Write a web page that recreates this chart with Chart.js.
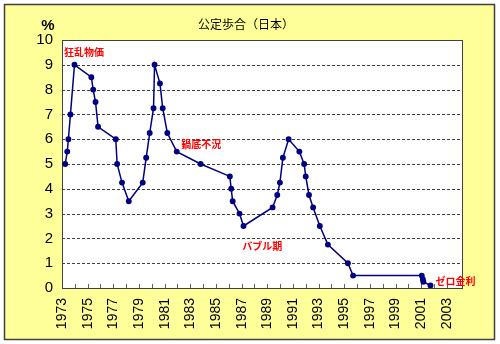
<!DOCTYPE html>
<html>
<head>
<meta charset="utf-8">
<title>公定歩合（日本）</title>
<script src="https://cdn.jsdelivr.net/npm/chart.js@4/dist/chart.umd.min.js"></script>
<style>
  body { margin: 0; background: #fff; }
  canvas { display: block; }
</style>
</head>
<body>
<canvas id="kouteibuai" width="500" height="344"></canvas>
<script>
// 改定日と公定歩合(%)
var changeDates = [
    "1973-04-02", "1973-05-30", "1973-07-02", "1973-08-29", "1973-12-22",
    "1975-04-16", "1975-06-07", "1975-08-13", "1975-10-24",
    "1977-03-12", "1977-04-19", "1977-09-05", "1978-03-16",
    "1979-04-17", "1979-07-24", "1979-11-02", "1980-02-19", "1980-03-19",
    "1980-08-20", "1980-11-06", "1981-03-18", "1981-12-11", "1983-10-22",
    "1986-01-30", "1986-03-10", "1986-04-21", "1986-11-01", "1987-02-23",
    "1989-05-31", "1989-10-11", "1989-12-25", "1990-03-20", "1990-08-30",
    "1991-07-01", "1991-11-14", "1991-12-30", "1992-04-01", "1992-07-27",
    "1993-02-04", "1993-09-21", "1995-04-14", "1995-09-08",
    "2001-01-15", "2001-02-13", "2001-03-01", "2001-09-19"
];
var rates = [
    5.0, 5.5, 6.0, 7.0, 9.0,
    8.5, 8.0, 7.5, 6.5,
    6.0, 5.0, 4.25, 3.5,
    4.25, 5.25, 6.25, 7.25, 9.0,
    8.25, 7.25, 6.25, 5.5, 5.0,
    4.5, 4.0, 3.5, 3.0, 2.5,
    3.25, 3.75, 4.25, 5.25, 6.0,
    5.5, 5.0, 4.5, 3.75, 3.25,
    2.5, 1.75, 1.0, 0.5,
    0.5, 0.35, 0.25, 0.1
];
var yTicks = [0, 1, 2, 3, 4, 5, 6, 7, 8, 9, 10];

// 注記（年, %）
var noteTexts = ["狂乱物価", "鍋底不況", "バブル期", "ゼロ金利"];
var noteYears = [1973.15, 1982.3, 1987.05, 2002.1];
var noteValues = [9.5, 5.8, 1.7, 0.28];

function toYear(s) {
    var p = s.split("-");
    var y = +p[0], m = +p[1], d = +p[2];
    var start = Date.UTC(y, 0, 1), end = Date.UTC(y + 1, 0, 1);
    return y + (Date.UTC(y, m - 1, d) - start) / (end - start);
}

var points = changeDates.map(function (d, i) {
    return { x: toYear(d), y: rates[i] };
});

var boxPlugin = {
    id: "box",
    beforeDraw: function (chart) {
        var ctx = chart.ctx, a = chart.chartArea;
        ctx.save();
        ctx.fillStyle = "#ffffff";
        ctx.fillRect(0, 0, chart.width, chart.height);
        ctx.fillStyle = "#ffff99";
        ctx.fillRect(4, 4, 491, 336);
        ctx.strokeStyle = "#404040";
        ctx.lineWidth = 1.5;
        ctx.strokeRect(4.5, 4.5, 490, 335);
        ctx.fillStyle = "#ffffff";
        ctx.fillRect(a.left, a.top, a.right - a.left, a.bottom - a.top);
        ctx.restore();
    },
    beforeDatasetsDraw: function (chart) {
        var ctx = chart.ctx, a = chart.chartArea, xs = chart.scales.x, ys = chart.scales.y;
        ctx.save();
        // 点線の目盛線
        ctx.strokeStyle = "#404040";
        ctx.lineWidth = 1;
        ctx.setLineDash([3, 2]);
        ctx.beginPath();
        ys.ticks.forEach(function (t) {
            if (t.value === yTicks[0] || t.value === yTicks[yTicks.length - 1]) return;
            var py = Math.round(ys.getPixelForValue(t.value)) + 0.5;
            ctx.moveTo(a.left, py);
            ctx.lineTo(a.right, py);
        });
        ctx.stroke();
        ctx.setLineDash([]);
        ctx.strokeRect(a.left + 0.5, a.top + 0.5, a.right - a.left - 1, a.bottom - a.top);
        // 目盛（内向き）
        ctx.strokeStyle = "#606060";
        ctx.beginPath();
        xs.ticks.forEach(function (t) {
            if (!Number.isInteger(t.value) || t.value === 1973) return;
            var px = Math.round(xs.getPixelForValue(t.value)) + 0.5;
            ctx.moveTo(px, a.bottom);
            ctx.lineTo(px, a.bottom - 4);
        });
        ctx.stroke();
        ctx.restore();
    },
    afterDraw: function (chart) {
        var ctx = chart.ctx, xs = chart.scales.x, ys = chart.scales.y;
        ctx.save();
        ctx.fillStyle = "#000000";
        ctx.textAlign = "center";
        ctx.textBaseline = "middle";
        ctx.font = "12px 'Noto Sans CJK JP'";
        ctx.fillText("公定歩合（日本）", 246, 24);
        ctx.font = "bold 15px 'Liberation Sans'";
        ctx.fillText("%", 48, 26);
        ctx.fillStyle = "#ff0000";
        ctx.textAlign = "left";
        ctx.font = "bold 10px 'Noto Sans CJK JP'";
        noteTexts.forEach(function (t, i) {
            ctx.fillText(t, xs.getPixelForValue(noteYears[i]), ys.getPixelForValue(noteValues[i]));
        });
        ctx.restore();
    }
};

var chart = new Chart(document.getElementById("kouteibuai").getContext("2d"), {
    type: "scatter",
    data: {
        datasets: [{
            label: "公定歩合",
            data: points,
            showLine: true,
            borderColor: "#000080",
            backgroundColor: "#000080",
            borderWidth: 1.5,
            pointRadius: 2.2,
            pointHoverRadius: 2.2,
            tension: 0
        }]
    },
    options: {
        responsive: false,
        animation: false,
        devicePixelRatio: 1,
        layout: { padding: { left: 0, top: 40, right: 37, bottom: 0 } },
        plugins: {
            legend: { display: false },
            tooltip: { enabled: false }
        },
        scales: {
            x: {
                type: "linear",
                min: 1973,
                max: 2004.25,
                afterFit: function (scale) { scale.height = 56; },
                border: { display: false },
                grid: { display: false, drawTicks: false },
                ticks: {
                    stepSize: 1,
                    autoSkip: false,
                    minRotation: 90,
                    maxRotation: 90,
                    padding: 10,
                    color: "#000000",
                    font: { family: "'Liberation Sans'", size: 14 },
                    callback: function (v) {
                        return (Number.isInteger(v) && v % 2 === 1) ? String(v) : "";
                    }
                }
            },
            y: {
                min: yTicks[0],
                max: yTicks[yTicks.length - 1],
                afterFit: function (scale) { scale.width = 62; },
                afterBuildTicks: function (scale) {
                    scale.ticks = yTicks.map(function (v) { return { value: v }; });
                },
                border: { display: false },
                grid: { display: false, drawTicks: false },
                ticks: {
                    padding: 9,
                    color: "#000000",
                    font: { family: "'Liberation Sans'", size: 15 }
                }
            }
        }
    },
    plugins: [boxPlugin]
});
</script>
</body>
</html>
